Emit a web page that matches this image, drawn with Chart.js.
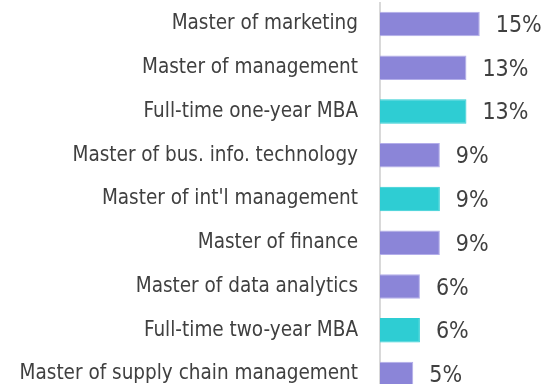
<!DOCTYPE html>
<html>
<head>
<meta charset="utf-8">
<script src="https://cdn.jsdelivr.net/npm/chart.js@4"></script>
<style>
  html, body { margin: 0; padding: 0; background: #fff; overflow: hidden; }
  body { width: 548px; height: 384px; position: relative; }
  #chart { position: absolute; left: 0; top: 2px; }
</style>
</head>
<body>
<canvas id="chart" width="548" height="394"></canvas>
<script>
const categories = [
  "Master of marketing",
  "Master of management",
  "Full-time one-year MBA",
  "Master of bus. info. technology",
  "Master of int'l management",
  "Master of finance",
  "Master of data analytics",
  "Full-time two-year MBA",
  "Master of supply chain management",
];
const shares = [15, 13, 13, 9, 9, 9, 6, 6, 5];
const isMba = [false, false, true, false, true, false, false, true, false];

const PURPLE = "#8b85d8";
const TEAL = "#2ecdd3";
const FONT = "'DejaVu Sans Condensed', 'DejaVu Sans'";

// draws the "15%" style labels right of each bar
const valueLabels = {
  id: "valueLabels",
  afterDatasetsDraw(chart) {
    const ctx = chart.ctx;
    const meta = chart.getDatasetMeta(0);
    ctx.save();
    ctx.font = "23px " + FONT;
    ctx.fillStyle = "#404040";
    ctx.textAlign = "left";
    ctx.textBaseline = "middle";
    meta.data.forEach((bar, i) => {
      ctx.fillText(shares[i] + "%", bar.x + 16, bar.y + 2);
    });
    ctx.restore();
  },
};

new Chart(document.getElementById("chart"), {
  type: "bar",
  data: {
    labels: categories,
    datasets: [
      {
        data: shares,
        backgroundColor: isMba.map((m) => (m ? TEAL : PURPLE)),
        borderColor: isMba.map((m) => (m ? TEAL : "#b3aeea")),
        borderWidth: 1,
        borderSkipped: "left",
        barPercentage: 0.56,
        categoryPercentage: 1,
      },
    ],
  },
  options: {
    indexAxis: "y",
    responsive: false,
    animation: false,
    layout: { padding: { left: 0, right: 35, top: 0, bottom: 0 } },
    plugins: {
      legend: { display: false },
      tooltip: { enabled: false },
    },
    scales: {
      x: {
        display: false,
        min: 0,
        max: 20,
      },
      y: {
        afterFit(scale) {
          scale.width = 380;
          // bands are already inset, no extra room for label halves
          scale.paddingTop = 0;
          scale.paddingBottom = 0;
        },
        grid: { display: false, drawTicks: false },
        border: { display: true, color: "#d9d9d9", width: 2 },
        ticks: {
          color: "#404040",
          font: { family: FONT, size: 20.5 },
          padding: 22,
        },
      },
    },
  },
  plugins: [valueLabels],
});
</script>
</body>
</html>
